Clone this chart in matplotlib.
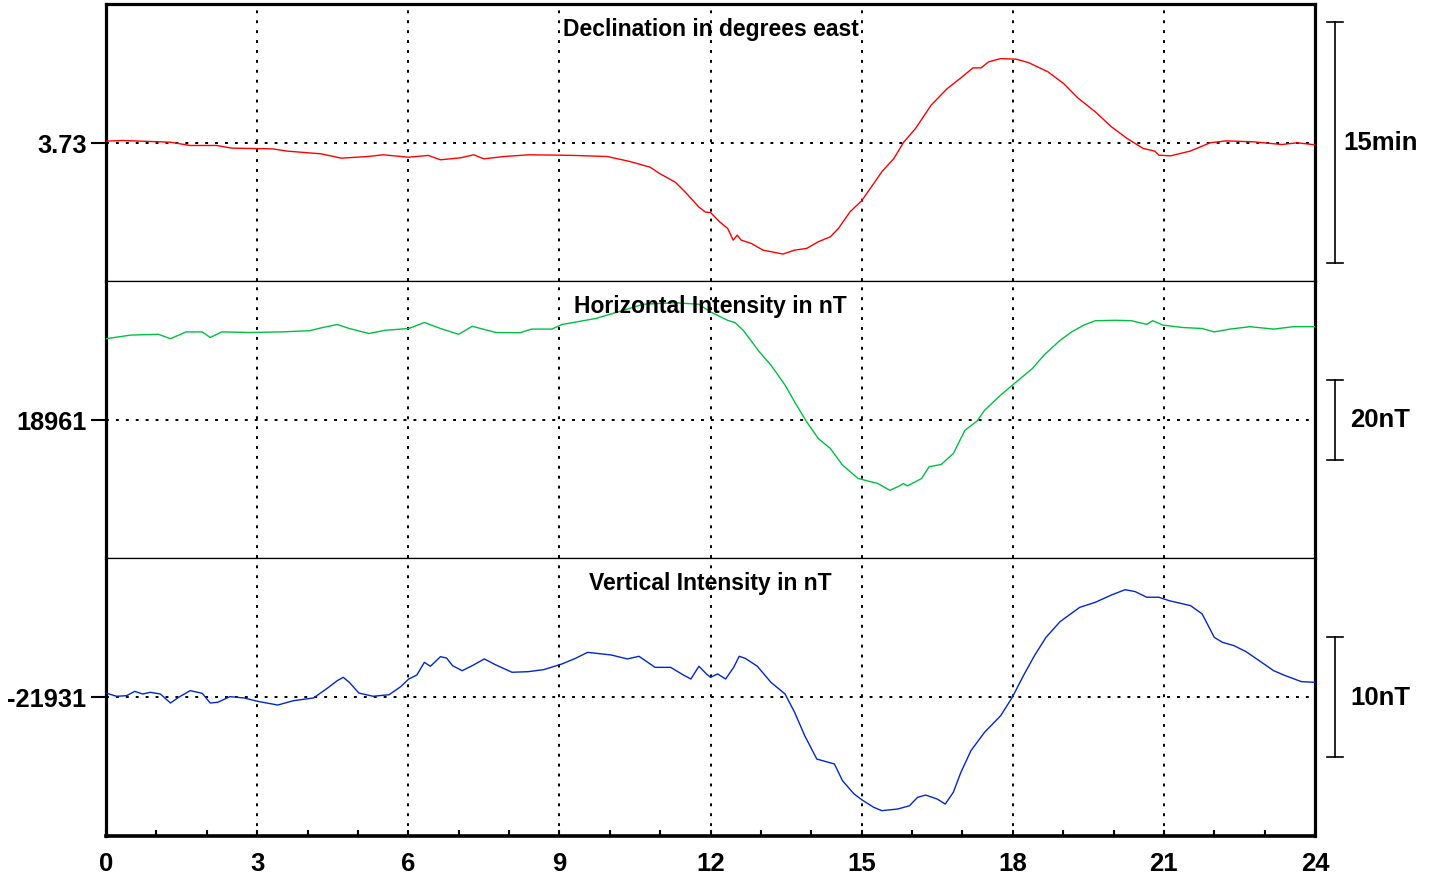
#!/usr/bin/env python3
# -*- coding: utf-8 -*-
import numpy as np
import matplotlib
matplotlib.use('Agg')
import matplotlib.pyplot as plt
import matplotlib.transforms as mtransforms

#!----------------------------------------------------------------------
#!	DATA  (hours UT)
#!----------------------------------------------------------------------
decl_hours = [0, 0.33, 1.28, 1.67, 2.2, 2.5, 3.3, 3.6, 4.27, 4.67, 5.2, 5.5, 6.0, 6.4, 6.64,
	7.03, 7.3, 7.5, 7.9, 8.4, 9.0, 9.3, 9.95, 10.4, 10.8, 11.0, 11.3, 11.5, 11.77, 11.9,
	12.0, 12.18, 12.34, 12.45, 12.53, 12.61, 12.81, 13.04, 13.44, 13.67, 13.91, 14.14, 14.38,
	14.54, 14.77, 15.0, 15.24, 15.4, 15.64, 15.83, 16.07, 16.38, 16.7, 16.97, 17.21, 17.37,
	17.52, 17.76, 18.07, 18.31, 18.7, 19.01, 19.29, 19.64, 19.96, 20.27, 20.59, 20.82, 20.9,
	21.13, 21.52, 21.92, 22.23, 22.79, 23.34, 23.65, 24.0]
decl_deg = [3.7314, 3.7321, 3.7303, 3.7269, 3.7269, 3.7241, 3.7234, 3.7210, 3.7182, 3.7137,
	3.7154, 3.7172, 3.7147, 3.7165, 3.7120, 3.7140, 3.7172, 3.7130, 3.7154, 3.7172, 3.7168,
	3.7165, 3.7154, 3.7102, 3.7043, 3.6974, 3.6887, 3.6783, 3.6627, 3.6575,
	3.6571, 3.6474, 3.6405, 3.6283, 3.6335, 3.6283, 3.6249, 3.6179, 3.6138, 3.6179, 3.6197,
	3.6266, 3.6318, 3.6405, 3.6578, 3.6693, 3.6873, 3.6995, 3.7133, 3.7300, 3.7446, 3.7689,
	3.7862, 3.7973, 3.8077, 3.8077, 3.8140, 3.8174, 3.8168, 3.8133, 3.8036, 3.7914, 3.7765,
	3.7619, 3.7463, 3.7342, 3.7238, 3.7210, 3.7168, 3.7161, 3.7210, 3.7297, 3.7317, 3.7307,
	3.7279, 3.7297, 3.7276]

horiz_hours = [0, 0.49, 1.04, 1.28, 1.59, 1.91, 2.07, 2.3, 2.85, 3.49, 4.04, 4.27, 4.59, 4.83,
	5.22, 5.54, 6.01, 6.32, 6.64, 7.0, 7.27, 7.74, 8.22, 8.45, 8.85, 9.05, 9.72, 10.27, 10.66,
	11.29, 11.77, 12.0, 12.34, 12.49, 12.65, 12.97, 13.2, 13.48, 13.67, 13.91, 14.14, 14.38,
	14.62, 14.93, 15.32, 15.56, 15.72, 15.83, 15.91, 16.19, 16.34, 16.58, 16.82, 17.05, 17.29,
	17.44, 17.76, 18.07, 18.39, 18.62, 18.94, 19.17, 19.41, 19.64, 20.04, 20.35, 20.66, 20.78,
	20.98, 21.37, 21.76, 22.0, 22.31, 22.71, 23.18, 23.57, 24.0]
horiz_nt = [18981.2, 18982.1, 18982.3, 18981.2, 18982.9, 18982.9, 18981.5, 18982.9, 18982.75,
	18982.9, 18983.2, 18983.9, 18984.75, 18983.75, 18982.5, 18983.3, 18983.75, 18985.25,
	18983.75, 18982.3, 18984.3, 18982.75, 18982.7, 18983.6, 18983.6, 18984.75, 18986.25,
	18988.3, 18989.8, 18990.2, 18989.8, 18987.9, 18985.8, 18985.2, 18983.3, 18977.9, 18974.6,
	18969.6, 18965.4, 18960.4, 18956.25, 18953.75, 18949.6, 18946.25, 18945.0, 18943.3,
	18944.2, 18945.0, 18944.4, 18946.25, 18949.2, 18949.75, 18952.5, 18958.3, 18960.6,
	18963.3, 18967.1, 18970.4, 18973.75, 18977.1, 18980.8, 18982.9, 18984.6, 18985.7,
	18985.8, 18985.7, 18984.8, 18985.7, 18984.6, 18984.0, 18983.75, 18982.9, 18983.6,
	18984.2, 18983.6, 18984.2, 18984.2]

vert_hours = [0, 0.21, 0.41, 0.57, 0.73, 0.88, 1.08, 1.28, 1.44, 1.67, 1.91, 2.07, 2.22, 2.46,
	2.74, 3.01, 3.41, 3.72, 4.12, 4.39, 4.59, 4.71, 4.83, 5.02, 5.3, 5.62, 5.85, 6.01, 6.17,
	6.32, 6.44, 6.64, 6.76, 6.88, 7.07, 7.27, 7.51, 7.74, 8.06, 8.38, 8.69, 9.05, 9.32, 9.56,
	10.03, 10.35, 10.58, 10.9, 11.21, 11.45, 11.61, 11.77, 11.92, 12.0, 12.14, 12.3, 12.46,
	12.57, 12.69, 12.93, 13.2, 13.48, 13.67, 13.87, 14.11, 14.46, 14.62, 14.85, 15.01, 15.24,
	15.4, 15.72, 15.95, 16.11, 16.27, 16.5, 16.66, 16.82, 16.97, 17.17, 17.44, 17.76, 17.99,
	18.23, 18.43, 18.66, 18.94, 19.33, 19.64, 19.96, 20.23, 20.43, 20.66, 20.9, 21.1, 21.53,
	21.76, 22.0, 22.16, 22.39, 22.63, 22.94, 23.18, 23.41, 23.73, 24.0]
vert_nt = [-21930.67, -21930.94, -21930.89, -21930.53, -21930.75, -21930.61, -21930.75,
	-21931.5, -21931.03, -21930.47, -21930.69, -21931.5, -21931.44, -21930.97, -21931.08,
	-21931.36, -21931.67, -21931.31, -21931.08, -21930.28, -21929.64, -21929.36, -21929.78,
	-21930.67, -21930.94, -21930.81, -21930.14, -21929.5, -21929.17, -21928.11, -21928.44,
	-21927.64, -21927.75, -21928.39, -21928.81, -21928.39, -21927.83, -21928.33, -21928.94,
	-21928.89, -21928.72, -21928.25, -21927.78, -21927.28, -21927.5, -21927.83, -21927.61,
	-21928.53, -21928.53, -21929.14, -21929.5, -21928.44, -21929.08, -21929.36, -21929.08,
	-21929.5, -21928.53, -21927.61, -21927.78, -21928.44, -21929.78, -21930.75, -21932.28,
	-21934.22, -21936.17, -21936.58, -21937.97, -21939.08, -21939.58, -21940.19, -21940.47,
	-21940.33, -21940.06, -21939.36, -21939.17, -21939.5, -21939.92, -21938.94, -21937.28,
	-21935.47, -21933.94, -21932.56, -21931.03, -21929.08, -21927.56, -21926.03, -21924.72,
	-21923.53, -21923.11, -21922.5, -21922.06, -21922.22, -21922.69, -21922.69, -21922.97,
	-21923.39, -21924.08, -21926.03, -21926.44, -21926.72, -21927.22, -21928.11, -21928.81,
	-21929.22, -21929.72, -21929.78]

panel_titles = ["Declination in degrees east", "Horizontal Intensity in nT", "Vertical Intensity in nT"]
baselines = [3.73, 18961, -21931]
baseline_labels = ["3.73", "18961", "-21931"]
half_ranges = [0.14427, 34.625, 11.58]
scale_sizes = [0.25, 20, 10]
scale_labels = ["15min", "20nT", "10nT"]
hour_ticks = [0, 3, 6, 9, 12, 15, 18, 21, 24]

#!----------------------------------------------------------------------
#!	PLOT
#!----------------------------------------------------------------------
def main():
	plt.rcParams['font.family'] = ['Liberation Sans', 'DejaVu Sans']
	plt.rcParams['font.weight'] = 'bold'

	fig = plt.figure(figsize=(14.31, 8.79), dpi=100)
	left, width = 106/1431, 1209/1431
	rects = [(left, 1-282/879, width, 277/879),
		(left, 1-559/879, width, 277/879),
		(left, 1-837/879, width, 278/879)]
	series = [(decl_hours, decl_deg, '#ff0000'),
		(horiz_hours, horiz_nt, '#00c040'),
		(vert_hours, vert_nt, '#0028c8')]
	dots = (0, (1.5, 3.6))

	for i in range(3):
		ax = fig.add_axes(rects[i])
		hrs, vals, col = series[i]
		ax.plot(hrs, vals, '-', color=col, lw=1.0, zorder=3)
		ax.set_xlim(0, 24)
		ax.set_ylim(baselines[i]-half_ranges[i], baselines[i]+half_ranges[i])

		# dotted grid
		for h in hour_ticks[1:-1]:
			ax.axvline(h, color='black', lw=1.4, linestyle=dots, zorder=1)
		ax.axhline(baselines[i], color='black', lw=1.4, linestyle=dots, zorder=1)

		ax.set_yticks([baselines[i]])
		ax.set_yticklabels([baseline_labels[i]], fontsize=18.3, fontweight='bold')
		ax.tick_params(axis='y', direction='out', length=11, width=1.5, pad=3)

		for s in ['left', 'right']:
			ax.spines[s].set_linewidth(2.3)
		ax.spines['top'].set_linewidth(2.3 if i == 0 else 0.9)
		ax.spines['bottom'].set_linewidth(2.6 if i == 2 else 0.9)

		if i == 2:
			ax.set_xticks(hour_ticks)
			ax.set_xticks(np.arange(0, 25, 1), minor=True)
			ax.set_xticklabels([str(h) for h in hour_ticks], fontsize=18.5, fontweight='bold')
			ax.tick_params(axis='x', which='major', direction='in', length=4, width=1.5, pad=11)
			ax.tick_params(axis='x', which='minor', direction='in', length=4, width=1.5)
		else:
			ax.set_xticks([])

		ax.text(0.5, 0.912, panel_titles[i], transform=ax.transAxes, ha='center', va='center',
			fontsize=16.5, fontweight='bold')

		# scale bar on the right
		tr = mtransforms.blended_transform_factory(ax.transAxes, ax.transData)
		lo = baselines[i] - scale_sizes[i]/2.
		hi = baselines[i] + scale_sizes[i]/2.
		bx = 1.0165
		ax.plot([bx, bx], [lo, hi], color='black', lw=1.2, transform=tr, clip_on=False)
		for yy in [lo, hi]:
			ax.plot([bx-0.0066, bx+0.0066], [yy, yy], color='black', lw=1.2, transform=tr, clip_on=False)
		tx = 1.0235 if i == 0 else 1.029
		ax.text(tx, baselines[i], scale_labels[i], transform=tr, ha='left', va='center',
			fontsize=18.5, fontweight='bold')

	plt.savefig('out.png', dpi=100)

if __name__=="__main__":
	main()
